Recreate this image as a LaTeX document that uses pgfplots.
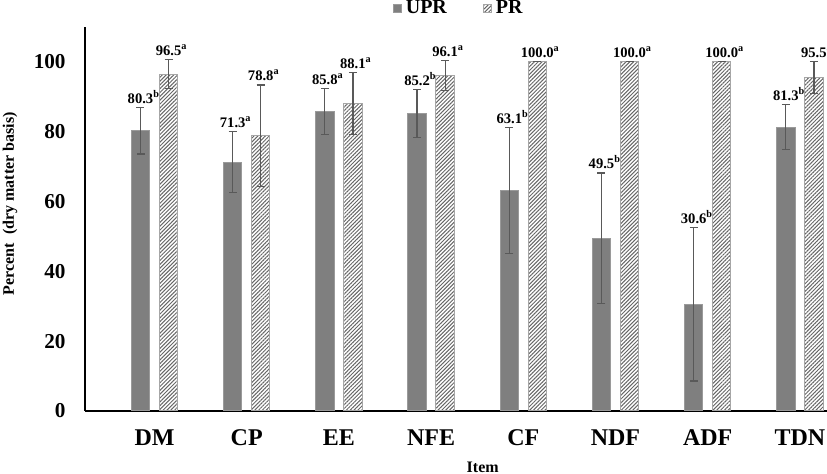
\documentclass[border=0pt]{standalone}
\usepackage{pgfplots}
\pgfplotsset{compat=1.18}
\usepackage{pgfplotstable}
\usepackage{fontspec}
\setmainfont{Liberation Serif}
\usetikzlibrary{patterns.meta}
\definecolor{uprgray}{HTML}{7F7F7F}
\definecolor{uprborder}{HTML}{9A9A9A}
\definecolor{errgray}{HTML}{595959}
\definecolor{prborder}{HTML}{A6A6A6}

\pgfplotstableread{
x cat upr uprerr uprsup pr prerr prsup
0 DM  80.3 6.7  b 96.5 4.1  a
1 CP  71.3 8.7  a 78.8 14.6 a
2 EE  85.8 6.5  a 88.1 8.8  a
3 NFE 85.2 6.8  b 96.1 4.3  a
4 CF  63.1 18.0 b 100.0 0   a
5 NDF 49.5 18.7 b 100.0 0   a
6 ADF 30.6 22.0 b 100.0 0   a
7 TDN 81.3 6.4  b 95.5 4.5  a
}\data

\begin{document}
\begin{tikzpicture}
\begin{axis}[
  scale only axis, width=371pt, height=192pt,
  xmin=-0.754, xmax=7.294, ymin=0, ymax=110,
  axis x line*=bottom, axis y line*=left,
  x axis line style={-, black, line width=0.7pt},
  y axis line style={-, black, line width=0.7pt},
  xtick={0,...,7}, xticklabels={DM,CP,EE,NFE,CF,NDF,ADF,TDN},
  ytick={0,20,...,100},
  major tick length=0pt, tick style={draw=none},
  /pgf/number format/assume math mode=true,
  yticklabel style={inner sep=0pt, font=\bfseries\fontsize{10.6}{12}\selectfont},
  yticklabel shift=9.5pt,
  xticklabel style={inner sep=0pt, anchor=north, font=\bfseries\fontsize{12}{14}\selectfont},
  xticklabel shift=9pt,
  ylabel={Percent~ (dry matter basis)},
  ylabel style={at={(axis description cs:-0.101,0.54)}, anchor=center, font=\bfseries\fontsize{8}{9}\selectfont},
  xlabel={Item},
  xlabel style={at={(axis description cs:0.536,-0.146)}, anchor=center, font=\bfseries\fontsize{8}{9}\selectfont},
  legend style={at={(axis description cs:0.505,1.049)}, anchor=center, draw=none, fill=none,
    font=\bfseries\fontsize{10}{11}\selectfont, inner sep=0pt,
    /tikz/every even column/.append style={column sep=16pt}},
  legend columns=2,
  legend image code/.code={\draw[#1] (0pt,-2pt) rectangle (4pt,2pt);},
]
\coordinate (O) at (rel axis cs:0,0);
\addplot[ybar, bar width=0.2, bar shift=0pt, fill=uprgray, draw=uprborder, line width=0.5pt,
  error bars/.cd, y dir=both, y explicit,
  error bar style={errgray, line width=0.6pt},
  error mark options={rotate=90, errgray, mark size=2pt, line width=0.6pt}]
  table[x expr=\thisrow{x}-0.152, y=upr, y error=uprerr]{\data};
\addlegendentry{UPR}
\addplot[ybar, bar width=0.2, bar shift=0pt, pattern={Lines[angle=45, distance=1.35pt, line width=0.5pt]}, pattern color=black!60, draw=prborder, line width=0.5pt,
  error bars/.cd, y dir=both, y explicit,
  error bar style={errgray, line width=0.6pt},
  error mark options={rotate=90, errgray, mark size=2pt, line width=0.6pt}]
  table[x expr=\thisrow{x}+0.152, y=pr, y error=prerr]{\data};
\addlegendentry{PR}
\addplot[draw=none, mark=none, forget plot,
  point meta=explicit symbolic,
  visualization depends on={\thisrow{upr}\as\mynum},
  nodes near coords={\pgfmathprintnumber[fixed,fixed zerofill,precision=1]{\mynum}\rlap{\textsuperscript{\pgfplotspointmeta}}},
  every node near coord/.style={anchor=south, inner sep=0pt, yshift=1.8pt, black, font=\bfseries\fontsize{7.3}{8}\selectfont}]
  table[x expr=\thisrow{x}-0.152, y expr=\thisrow{upr}+\thisrow{uprerr}, meta=uprsup]{\data};
\addplot[draw=none, mark=none, forget plot,
  point meta=explicit symbolic,
  visualization depends on={\thisrow{pr}\as\mynum},
  nodes near coords={\pgfmathprintnumber[fixed,fixed zerofill,precision=1]{\mynum}\rlap{\textsuperscript{\pgfplotspointmeta}}},
  every node near coord/.style={anchor=south, inner sep=0pt, yshift=1.8pt, black, font=\bfseries\fontsize{7.3}{8}\selectfont}]
  table[x expr=\thisrow{x}+0.152, y expr=\thisrow{pr}+\thisrow{prerr}, meta=prsup]{\data};
\end{axis}
\pgfresetboundingbox
\useasboundingbox ([xshift=-42.5pt,yshift=-31.5pt]O) rectangle ([xshift=371pt,yshift=205.5pt]O);
\end{tikzpicture}
\end{document}
